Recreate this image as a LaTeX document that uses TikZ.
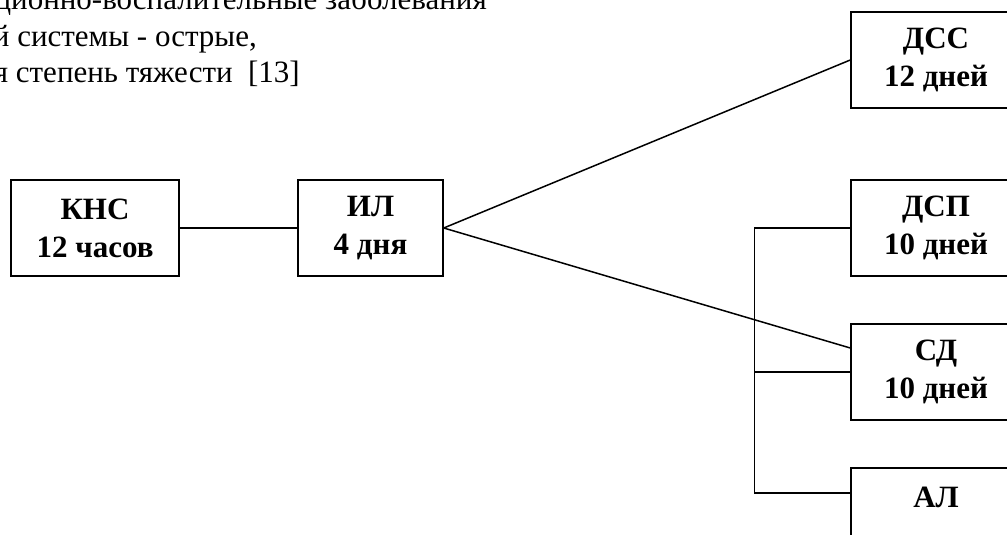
\documentclass[tikz,border=0pt]{standalone}
\usepackage{fontspec}
\setmainfont{Liberation Serif}
\begin{document}
\begin{tikzpicture}[x=1pt,y=-1pt,
  box/.style={draw, line width=1.5pt, inner sep=0pt, minimum height=96pt, align=center,
    font=\fontsize{31}{38}\selectfont\bfseries},
  conn/.style={line width=1.5pt},
  txt/.style={inner sep=0pt, font=\fontsize{31}{36}\selectfont}]
\useasboundingbox (0,0) rectangle (1007,535);
\clip (0,0) rectangle (1007,535);
\node[txt, anchor=base east] (t1) at (487,10) {ционно-воспалительные заболевания};
\node[txt, anchor=base east] (t2) at (257,47) {й системы - острые,};
\node[txt, anchor=base east] (t3) at (300,83) {я степень тяжести\ \ [13]};
\node[box, minimum width=168pt] (kns) at (95,228) {КНС\\12 часов};
\node[box, minimum width=145pt] (il) at (370.5,228) {ИЛ\\4 дня};
\node[box, minimum width=170pt] (dss) at (936,60) {ДСС\\12 дней};
\node[box, minimum width=170pt] (dsp) at (936,228) {ДСП\\10 дней};
\node[box, minimum width=170pt] (sd) at (936,372) {СД\\10 дней};
\node[box, minimum width=170pt] (al) at (936,516) {АЛ\\\mbox{}};
\coordinate (sdin) at ([yshift=24pt]sd.west);
\coordinate (alin) at ([yshift=23pt]al.west);
\coordinate (bt) at ([xshift=-96pt]dsp.west);
\draw[conn] (kns.east) -- (il.west);
\draw[conn] (il.east) -- (dss.west);
\draw[conn] (il.east) -- (sdin);
\draw[conn] (dsp.west) -- (bt) |- (alin);
\draw[conn] (sd.west) -- (sd.west -| bt);
\end{tikzpicture}
\end{document}
